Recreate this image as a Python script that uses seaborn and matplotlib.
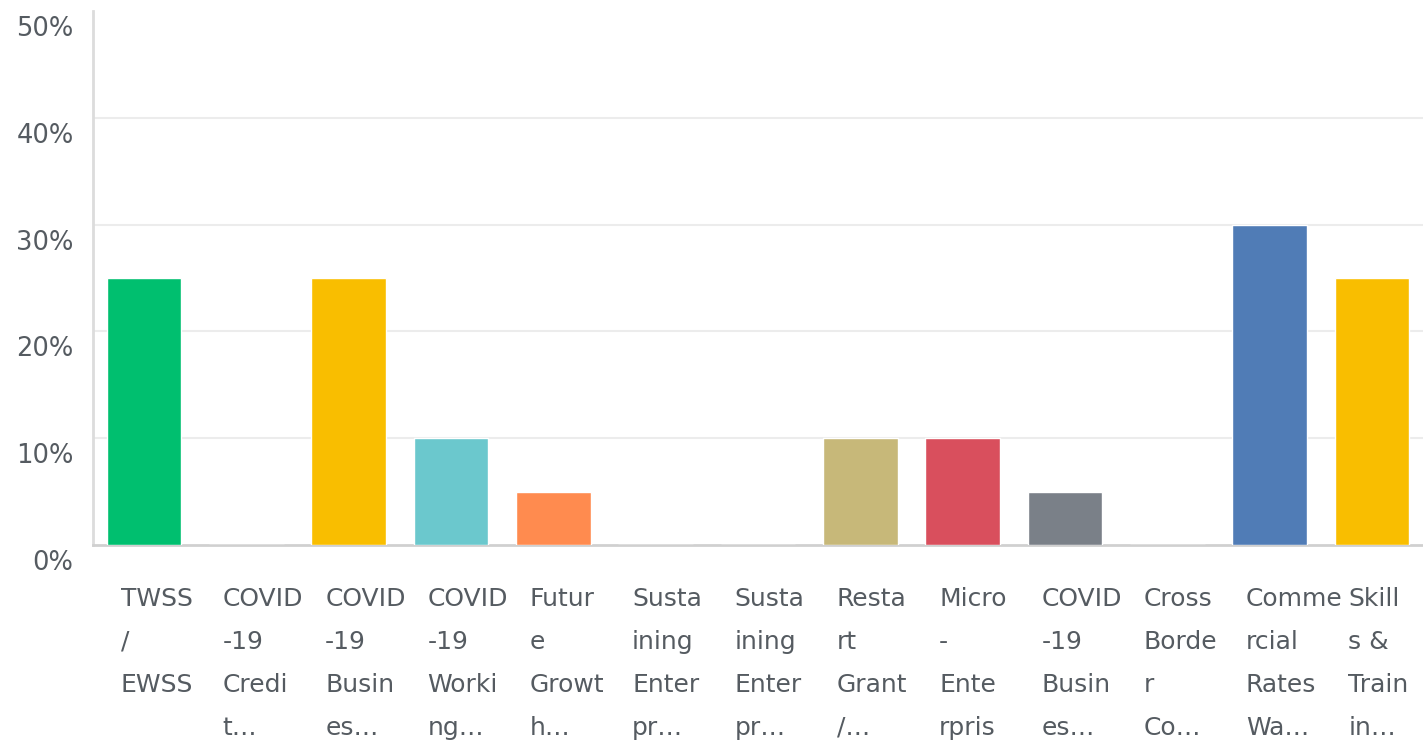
import matplotlib
matplotlib.use("Agg")
import matplotlib.pyplot as plt
import matplotlib.transforms as mtransforms
from matplotlib.ticker import FuncFormatter
import seaborn as sns
import pandas as pd

# ── Data ─────────────────────────────────────────────────────────────────────
CATEGORIES = [
    "TWSS\n/\nEWSS",
    "COVID\n-19\nCredi\nt…",
    "COVID\n-19\nBusin\nes…",
    "COVID\n-19\nWorki\nng…",
    "Futur\ne\nGrowt\nh…",
    "Susta\nining\nEnter\npr…",
    "Susta\nining\nEnter\npr… ",
    "Resta\nrt\nGrant\n/…",
    "Micro\n-\nEnte\nrpris",
    "COVID\n-19\nBusin\nes… ",
    "Cross\nBorde\nr\nCo…",
    "Comme\nrcial\nRates\nWa…",
    "Skill\ns &\nTrain\nin…",
]
VALUES = [25, 0, 25, 10, 5, 0, 0, 10, 10, 5, 0, 30, 25]
COLORS = ["#00BF6F", "#507CB6", "#F9BE00", "#6BC8CD", "#FF8B4F", "#7D848B",
          "#507CB6", "#C7B879", "#D94F5D", "#7A8088", "#6BC8CD", "#507CB6",
          "#F9BE00"]
Y_TICKS = [0, 10, 20, 30, 40, 50]

TEXT_COLOR = "#555b61"
GRID_COLOR = "#ececec"

df = pd.DataFrame({"category": CATEGORIES, "value": VALUES})

sns.set_theme(style="white")
plt.rcParams["font.family"] = ["DejaVu Sans"]

fig = plt.figure(figsize=(14.23, 7.42), dpi=100)
ax = fig.add_axes([93 / 1423, 197 / 742, 1 - 93 / 1423, 534 / 742])

sns.barplot(data=df, x="category", y="value", hue="category",
            palette=COLORS, legend=False, width=0.73, saturation=1,
            ax=ax, zorder=3)

ax.set_ylim(0, 50)
ax.set_xlim(-0.5, len(CATEGORIES) - 0.5)
ax.set_yticks(Y_TICKS)
ax.yaxis.set_major_formatter(FuncFormatter(lambda v, _: f"{v:.0f}%"))
ax.set_xlabel("")
ax.set_ylabel("")
ax.set_xticks(range(len(CATEGORIES)))
ax.set_xticklabels([])
ax.tick_params(axis="both", length=0)
ax.tick_params(axis="y", pad=14, labelsize=18.5, labelcolor=TEXT_COLOR)

# y labels sit a bit below their gridlines in the original
shift = mtransforms.ScaledTranslation(0, -15 / 100, fig.dpi_scale_trans)
for lbl in ax.get_yticklabels():
    lbl.set_transform(lbl.get_transform() + shift)

for y in Y_TICKS[1:-1]:
    ax.axhline(y, color=GRID_COLOR, linewidth=1.5, zorder=1)

for side in ["top", "right"]:
    ax.spines[side].set_visible(False)
ax.spines["left"].set_color("#dcdcdc")
ax.spines["left"].set_linewidth(2)
ax.spines["bottom"].set_color("#d0d0d0")
ax.spines["bottom"].set_linewidth(2)

# wrapped category labels, left aligned under each bar
for i, lab in enumerate(CATEGORIES):
    ax.annotate(lab.strip(), xy=(i, 0), xycoords=("data", "axes fraction"),
                xytext=(-17, -30), textcoords="offset points",
                ha="left", va="top", fontsize=18, color=TEXT_COLOR,
                linespacing=2.0, annotation_clip=False)

fig.savefig("out.png", dpi=100)
